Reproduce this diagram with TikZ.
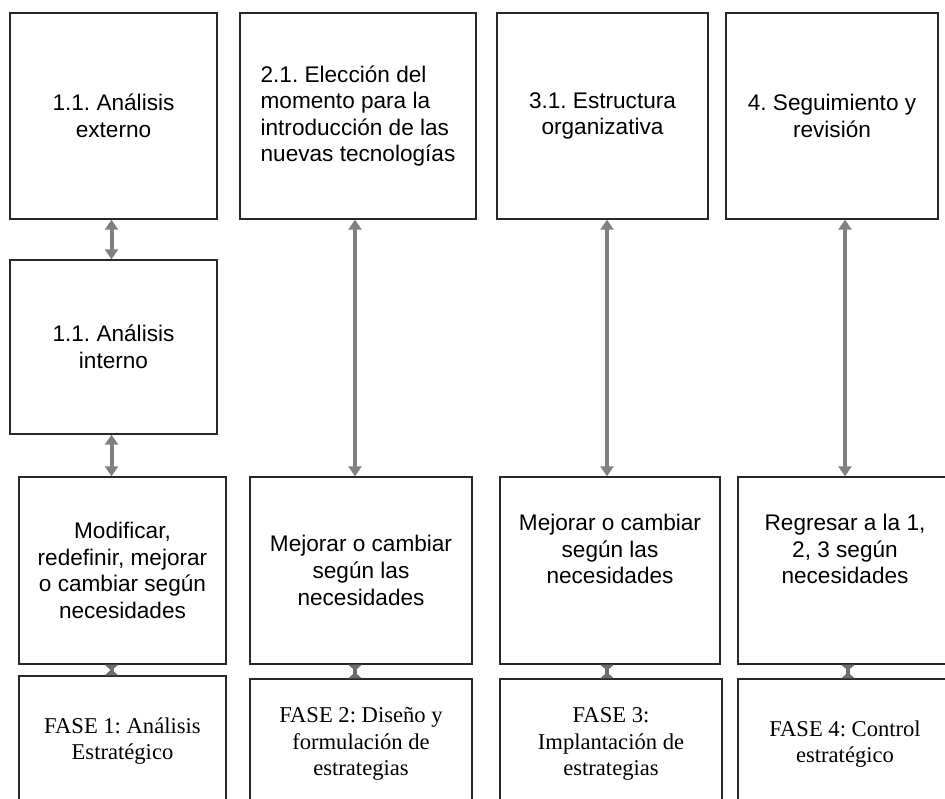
\documentclass[tikz,border=0pt]{standalone}
\usepackage{fontspec}
\setmainfont{Liberation Serif}
\setsansfont{Liberation Sans}
\usepackage{xcolor}
\definecolor{borde}{RGB}{40, 40, 40}
\definecolor{flechagris}{RGB}{128, 128, 128}
\usepackage{tikz}
\usetikzlibrary{arrows.meta}
\frenchspacing

\begin{document}
\begin{tikzpicture}[
    x=0.5pt, y=-0.5pt,
    caja/.style={draw=borde, line width=0.7pt, rectangle, inner sep=0pt, align=center, font=\sffamily\fontsize{11.3}{13.3}\selectfont},
    fase/.style={caja, minimum height=65pt, font=\rmfamily\fontsize{11.3}{13.3}\selectfont},
    texto/.style={inner sep=0pt, align=center, font=\sffamily\fontsize{11.3}{13.3}\selectfont},
    flecha/.style={{Triangle[length=5pt,width=6.5pt]}-{Triangle[length=5pt,width=6.5pt]}, line width=2pt, draw=flechagris},
    tope/.style={{Triangle[length=3pt,width=6.5pt,reversed]}-{Triangle[length=3pt,width=6.5pt,reversed]}, line width=2pt, draw=flechagris!85!black}
]
\path[use as bounding box, fill=white] (0,0) rectangle (945,798);

% Top row
\node[caja, minimum width=103.5pt, minimum height=103pt] (externo) at (113.5,116) {1.1. Análisis\\externo};
\node[caja, align=left, minimum width=118pt, minimum height=103pt] (momento) at (358,116) {2.1. Elección del\\momento para la\\introducción de las\\nuevas tecnologías};
\node[caja, minimum width=105.5pt, minimum height=103pt] (estructura) at (602.5,116) {3.1. Estructura\\organizativa};
\node[caja, minimum width=106pt, minimum height=103pt] (seguimiento) at (832,116) {4. Seguimiento y\\revisión};

\node[caja, minimum width=103.5pt, minimum height=87pt] (interno) at (113.5,347) {1.1. Análisis\\interno};

% Middle row
\node[caja, minimum width=103.5pt, minimum height=93.5pt] (modificar) at (122.5,570.5) {Modificar,\\redefinir, mejorar\\o cambiar según\\necesidades};
\node[caja, minimum width=111pt, minimum height=93.5pt] (mejorarB) at (361,570.5) {Mejorar o cambiar\\según las\\necesidades};
\node[caja, minimum width=110pt, minimum height=93.5pt] (mejorarC) at (610,570.5) {};
\node[texto] (mejorarCtxt) at (610,549) {Mejorar o cambiar\\según las\\necesidades};
\node[caja, minimum width=107pt, minimum height=93.5pt] (regresar) at (845,570.5) {};
\node[texto] (regresartxt) at (845,549) {Regresar a la 1,\\2, 3 según\\necesidades};

% Phases
\node[fase, minimum width=103.5pt] (fase1) at (122.5,741) {FASE 1: Análisis\\Estratégico};
\node[fase, minimum width=111pt] (fase2) at (361,744) {FASE 2: Diseño y\\formulación de\\estrategias};
\node[fase, minimum width=111pt] (fase3) at (611,744) {FASE 3:\\Implantación de\\estrategias};
\node[fase, minimum width=107pt] (fase4) at (845,744) {FASE 4: Control\\estratégico};

% Arrows
\draw[flecha] ([xshift=-1pt]externo.south) -- ([xshift=-1pt]externo.south |- interno.north);
\draw[flecha] ([xshift=-1pt]interno.south) -- ([xshift=-1pt]interno.south |- modificar.north);
\draw[flecha] ([xshift=-1.5pt]momento.south) -- ([xshift=-1.5pt]momento.south |- mejorarB.north);
\draw[flecha] ([xshift=-1.5pt]mejorarC.north |- estructura.south) -- ([xshift=-1.5pt]mejorarC.north);
\draw[flecha] (regresar.north |- seguimiento.south) -- (regresar.north);

\draw[tope] ([xshift=-1pt]interno.south |- modificar.south) -- ([xshift=-1pt]interno.south |- fase1.north);
\draw[tope] ([xshift=-1.5pt]momento.south |- mejorarB.south) -- ([xshift=-1.5pt]momento.south |- fase2.north);
\draw[tope] ([xshift=-1.5pt]mejorarC.south) -- ([xshift=-1.5pt]mejorarC.south |- fase3.north);
\draw[tope] ([xshift=1.5pt]regresar.south) -- ([xshift=1.5pt]regresar.south |- fase4.north);

\end{tikzpicture}
\end{document}
